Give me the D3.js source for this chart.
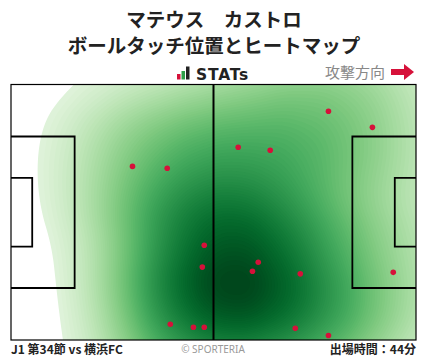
<!DOCTYPE html>
<html><head><meta charset="utf-8">
<script src="https://cdn.jsdelivr.net/npm/d3@7"></script>
<style>
html,body{margin:0;padding:0;background:#fff;}
svg{display:block;font-family:"Noto Sans CJK JP","Noto Sans",sans-serif;}
</style></head>
<body>
<svg id="c" width="428" height="359"></svg>
<script>
// ---- data ----
const playerName = "マテウス　カストロ";
const subTitle = "ボールタッチ位置とヒートマップ";
const matchLabel = "J1 第34節 vs 横浜FC";
const minutesLabel = "出場時間：44分";
const directionLabel = "攻撃方向";
// touch positions in pitch metres (x: 0-105 along attack direction, y: 0-68 from top)
const touchX = [31.5, 40.5, 82.3, 93.7, 58.9, 67.2, 50.1, 49.6, 41.3, 47.3, 50.1, 64.1, 62.6, 75.0, 99.1, 73.7, 82.3];
const touchY = [21.8, 22.3, 7.1, 11.4, 16.7, 17.5, 42.8, 48.6, 63.8, 64.6, 64.6, 47.3, 49.7, 50.4, 50.0, 64.9, 66.8];

const svg = d3.select("#c");
const W = 428;
const px0 = 11, px1 = 416, py0 = 84.5, py1 = 340;
const x = d3.scaleLinear().domain([0, 105]).range([px0, px1]);
const y = d3.scaleLinear().domain([0, 68]).range([py0, py1]);
const pts = touchX.map((v, i) => [v, touchY[i]]);

// titles
svg.append("text").attr("x", W/2).attr("y", 27).attr("text-anchor", "middle")
  .attr("font-size", 19.5).attr("font-weight", "bold").attr("fill", "#222").text(playerName);
svg.append("text").attr("x", W/2).attr("y", 53).attr("text-anchor", "middle")
  .attr("font-size", 19.5).attr("font-weight", "bold").attr("fill", "#222").text(subTitle);

// STATs logo
const logo = svg.append("g");
logo.append("rect").attr("x", 177).attr("y", 74).attr("width", 3.5).attr("height", 5.5).attr("fill", "#d6113a");
logo.append("rect").attr("x", 181.5).attr("y", 71).attr("width", 3.5).attr("height", 8.5).attr("fill", "#2e9e48");
logo.append("rect").attr("x", 186).attr("y", 66.5).attr("width", 3.5).attr("height", 13).attr("fill", "#222");
svg.append("text").attr("x", 196).attr("y", 79.5).attr("font-size", 15.5).attr("font-weight", "bold")
  .attr("font-family", "'DejaVu Sans', sans-serif").attr("fill", "#222").attr("letter-spacing", 0.8).text("STATs");

// direction
svg.append("text").attr("x", 385).attr("y", 78).attr("text-anchor", "end").attr("font-size", 15)
  .attr("fill", "#888").text(directionLabel);
svg.append("path").attr("d", "M391,69 L404,69 L404,64 L414,72 L404,80 L404,75 L391,75 Z").attr("fill", "#d6113a");

// heatmap
const defs = svg.append("defs");
defs.append("clipPath").attr("id", "pc").append("rect")
  .attr("x", px0).attr("y", py0).attr("width", px1 - px0).attr("height", py1 - py0);
const pw = px1 - px0, ph = py1 - py0;
const dens = d3.contourDensity()
  .x(d => x(d[0]) - px0).y(d => y(d[1]) - py0)
  .size([pw, ph]).cellSize(2).bandwidth(58);
const probe = dens.thresholds(300)(pts);
const maxV = d3.max(probe, c => c.value);
const cut = maxV * 0.06;
const nT = 80;
const thr = d3.range(nT).map(i => cut + (maxV - cut) * i / nT);
const contours = dens.thresholds(thr)(pts);
const color = d3.scaleSequential(d3.interpolateGreens).domain([0, 1]);
const tval = d3.scalePow().exponent(0.75).domain([0, maxV]).range([0.03, 1.0]);
svg.append("g").attr("clip-path", "url(#pc)")
  .append("g").attr("transform", `translate(${px0},${py0})`)
  .selectAll("path").data(contours).join("path")
  .attr("d", d3.geoPath()).attr("fill", d => color(tval(d.value))).attr("stroke", "none");

// pitch lines
const lines = svg.append("g").attr("fill", "none").attr("stroke", "#000");
lines.append("rect").attr("x", px0).attr("y", py0).attr("width", pw).attr("height", ph).attr("stroke-width", 1.2);
lines.append("line").attr("x1", x(52.5)).attr("x2", x(52.5)).attr("y1", py0).attr("y2", py1).attr("stroke-width", 2);
const boxes = [[0, 16.5, 13.84, 54.16], [0, 5.5, 24.84, 43.16], [88.5, 105, 13.84, 54.16], [99.5, 105, 24.84, 43.16]];
lines.selectAll("path.box").data(boxes).join("path").attr("class", "box").attr("stroke-width", 1.8)
  .attr("d", b => b[0] === 0
    ? `M${x(0)},${y(b[2])} H${x(b[1])} V${y(b[3])} H${x(0)}`
    : `M${x(105)},${y(b[2])} H${x(b[0])} V${y(b[3])} H${x(105)}`);

// points
svg.append("g").selectAll("circle").data(pts).join("circle")
  .attr("cx", d => x(d[0])).attr("cy", d => y(d[1])).attr("r", 2.8).attr("fill", "#d6113a");

// footer
svg.append("text").attr("x", 11).attr("y", 354).attr("font-size", 12).attr("font-weight", "bold")
  .attr("fill", "#222").text(matchLabel);
svg.append("text").attr("x", 213).attr("y", 353).attr("text-anchor", "middle").attr("font-size", 10)
  .attr("fill", "#999").attr("font-family", "'Noto Sans', sans-serif").text("© SPORTERIA");
svg.append("text").attr("x", 416).attr("y", 354).attr("text-anchor", "end").attr("font-size", 12)
  .attr("font-weight", "bold").attr("fill", "#222").text(minutesLabel);
</script>
</body></html>
